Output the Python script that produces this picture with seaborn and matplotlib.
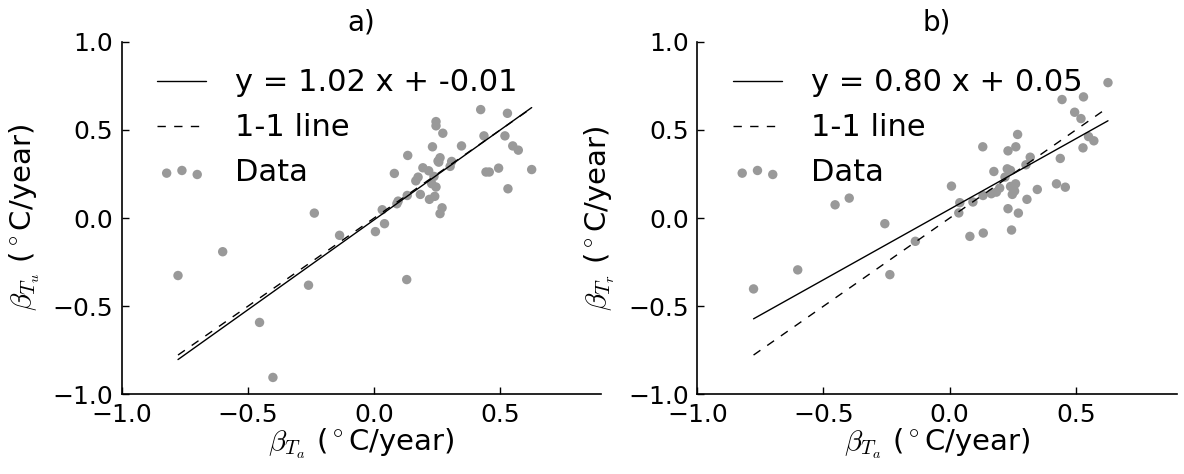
import numpy as np
import pandas as pd
import seaborn as sns
import matplotlib.pyplot as plt

# panel a: beta_Ta vs beta_Tu
x_a = [-0.777, -0.600, -0.454, -0.401, -0.260, -0.237, -0.137, 0.005, 0.041, 0.032,
       0.090, 0.095, 0.080, 0.129, 0.131, 0.133, 0.165, 0.174, 0.183, 0.193,
       0.216, 0.219, 0.228, 0.231, 0.237, 0.240, 0.245, 0.245, 0.245, 0.253,
       0.256, 0.261, 0.261, 0.269, 0.272, 0.301, 0.307, 0.346, 0.422, 0.435,
       0.443, 0.456, 0.493, 0.518, 0.528, 0.530, 0.549, 0.571, 0.624]
y_a = [-0.326, -0.191, -0.592, -0.904, -0.381, 0.028, -0.098, -0.077, -0.032, 0.047,
       0.081, 0.096, 0.253, -0.349, 0.128, 0.355, 0.211, 0.232, 0.134, 0.285,
       0.268, 0.106, 0.195, 0.404, 0.236, 0.123, 0.176, 0.547, 0.523, 0.323,
       0.317, 0.342, 0.025, 0.058, 0.481, 0.293, 0.321, 0.409, 0.615, 0.466,
       0.261, 0.261, 0.283, 0.466, 0.594, 0.166, 0.409, 0.385, 0.275]

# panel b: beta_Ta vs beta_Tr
x_b = [-0.777, -0.602, -0.454, -0.398, -0.257, -0.237, -0.136, 0.007, 0.036, 0.040,
       0.080, 0.092, 0.131, 0.132, 0.133, 0.165, 0.175, 0.185, 0.198, 0.219,
       0.228, 0.231, 0.231, 0.241, 0.241, 0.245, 0.248, 0.257, 0.261, 0.262,
       0.269, 0.272, 0.302, 0.306, 0.319, 0.347, 0.423, 0.438, 0.445, 0.458,
       0.495, 0.520, 0.528, 0.530, 0.550, 0.571, 0.627]
y_b = [-0.402, -0.294, 0.075, 0.113, -0.032, -0.321, -0.132, 0.181, 0.029, 0.087,
       -0.104, 0.091, 0.404, 0.128, -0.085, 0.138, 0.264, 0.147, 0.170, 0.232,
       0.279, 0.381, 0.053, 0.270, 0.179, -0.068, 0.134, 0.153, 0.194, 0.404,
       0.474, 0.028, 0.302, 0.106, 0.345, 0.162, 0.194, 0.338, 0.672, 0.175,
       0.600, 0.564, 0.398, 0.687, 0.462, 0.438, 0.768]

fit_a = (1.02, -0.01)
fit_b = (0.80, 0.05)
titles = ['a)', 'b)']
ylabels = [r'$\beta_{T_u}$ ($^\circ$C/year)', r'$\beta_{T_r}$ ($^\circ$C/year)']
xlabel = r'$\beta_{T_a}$ ($^\circ$C/year)'

sns.set_style('ticks')
plt.rcParams['font.family'] = ['DejaVu Sans']
plt.rcParams['mathtext.fontset'] = 'cm'
plt.rcParams['text.color'] = 'black'
plt.rcParams['axes.labelcolor'] = 'black'
plt.rcParams['xtick.color'] = 'black'
plt.rcParams['ytick.color'] = 'black'

fig = plt.figure(figsize=(11.84, 4.74), dpi=100)
ax_a = fig.add_axes([0.1028, 0.168, 0.4051, 0.744])
ax_b = fig.add_axes([0.5889, 0.168, 0.4051, 0.744])

panels = [(ax_a, x_a, y_a, fit_a), (ax_b, x_b, y_b, fit_b)]
for i, (ax, xs, ys, fit) in enumerate(panels):
    df = pd.DataFrame({'x': xs, 'y': ys})
    ends = np.array([df['x'].min(), df['x'].max()])
    line_df = pd.DataFrame({'x': ends, 'fit': fit[0] * ends + fit[1], 'one': ends})
    sns.lineplot(data=line_df, x='x', y='fit', ax=ax, color='black', lw=1,
                 label='y = %.2f x + %.2f' % fit)
    sns.lineplot(data=line_df, x='x', y='one', ax=ax, color='black', lw=1,
                 dashes=False, label='1-1 line')
    ax.lines[-1].set_dashes([6, 6])
    sns.scatterplot(data=df, x='x', y='y', ax=ax, color='0.6', s=46,
                    edgecolor='none', label='Data')
    ax.set_xlim(-1.0, 0.9)
    ax.set_ylim(-1.0, 1.0)
    ax.set_xticks([-1.0, -0.5, 0.0, 0.5])
    ax.set_yticks([-1.0, -0.5, 0.0, 0.5, 1.0])
    ax.tick_params(direction='in', length=5, width=1, labelsize=18, pad=6)
    ax.set_xlabel(xlabel, fontsize=21, labelpad=0)
    ax.set_ylabel(ylabels[i], fontsize=21, labelpad=8)
    ax.set_title(titles[i], fontsize=20, pad=8)
    sns.despine(ax=ax)
    for sp in ['left', 'bottom']:
        ax.spines[sp].set_linewidth(1.2)
        ax.spines[sp].set_color('black')
    ax.legend(loc='upper left', frameon=False, fontsize=22, handlelength=1.6,
              handletextpad=0.95, scatterpoints=3,
              scatteryoffsets=[0.375, 0.5, 0.3125], borderaxespad=0.3,
              labelspacing=0.52, bbox_to_anchor=(0.03, 0.985))

fig.savefig('out.png', dpi=100)
